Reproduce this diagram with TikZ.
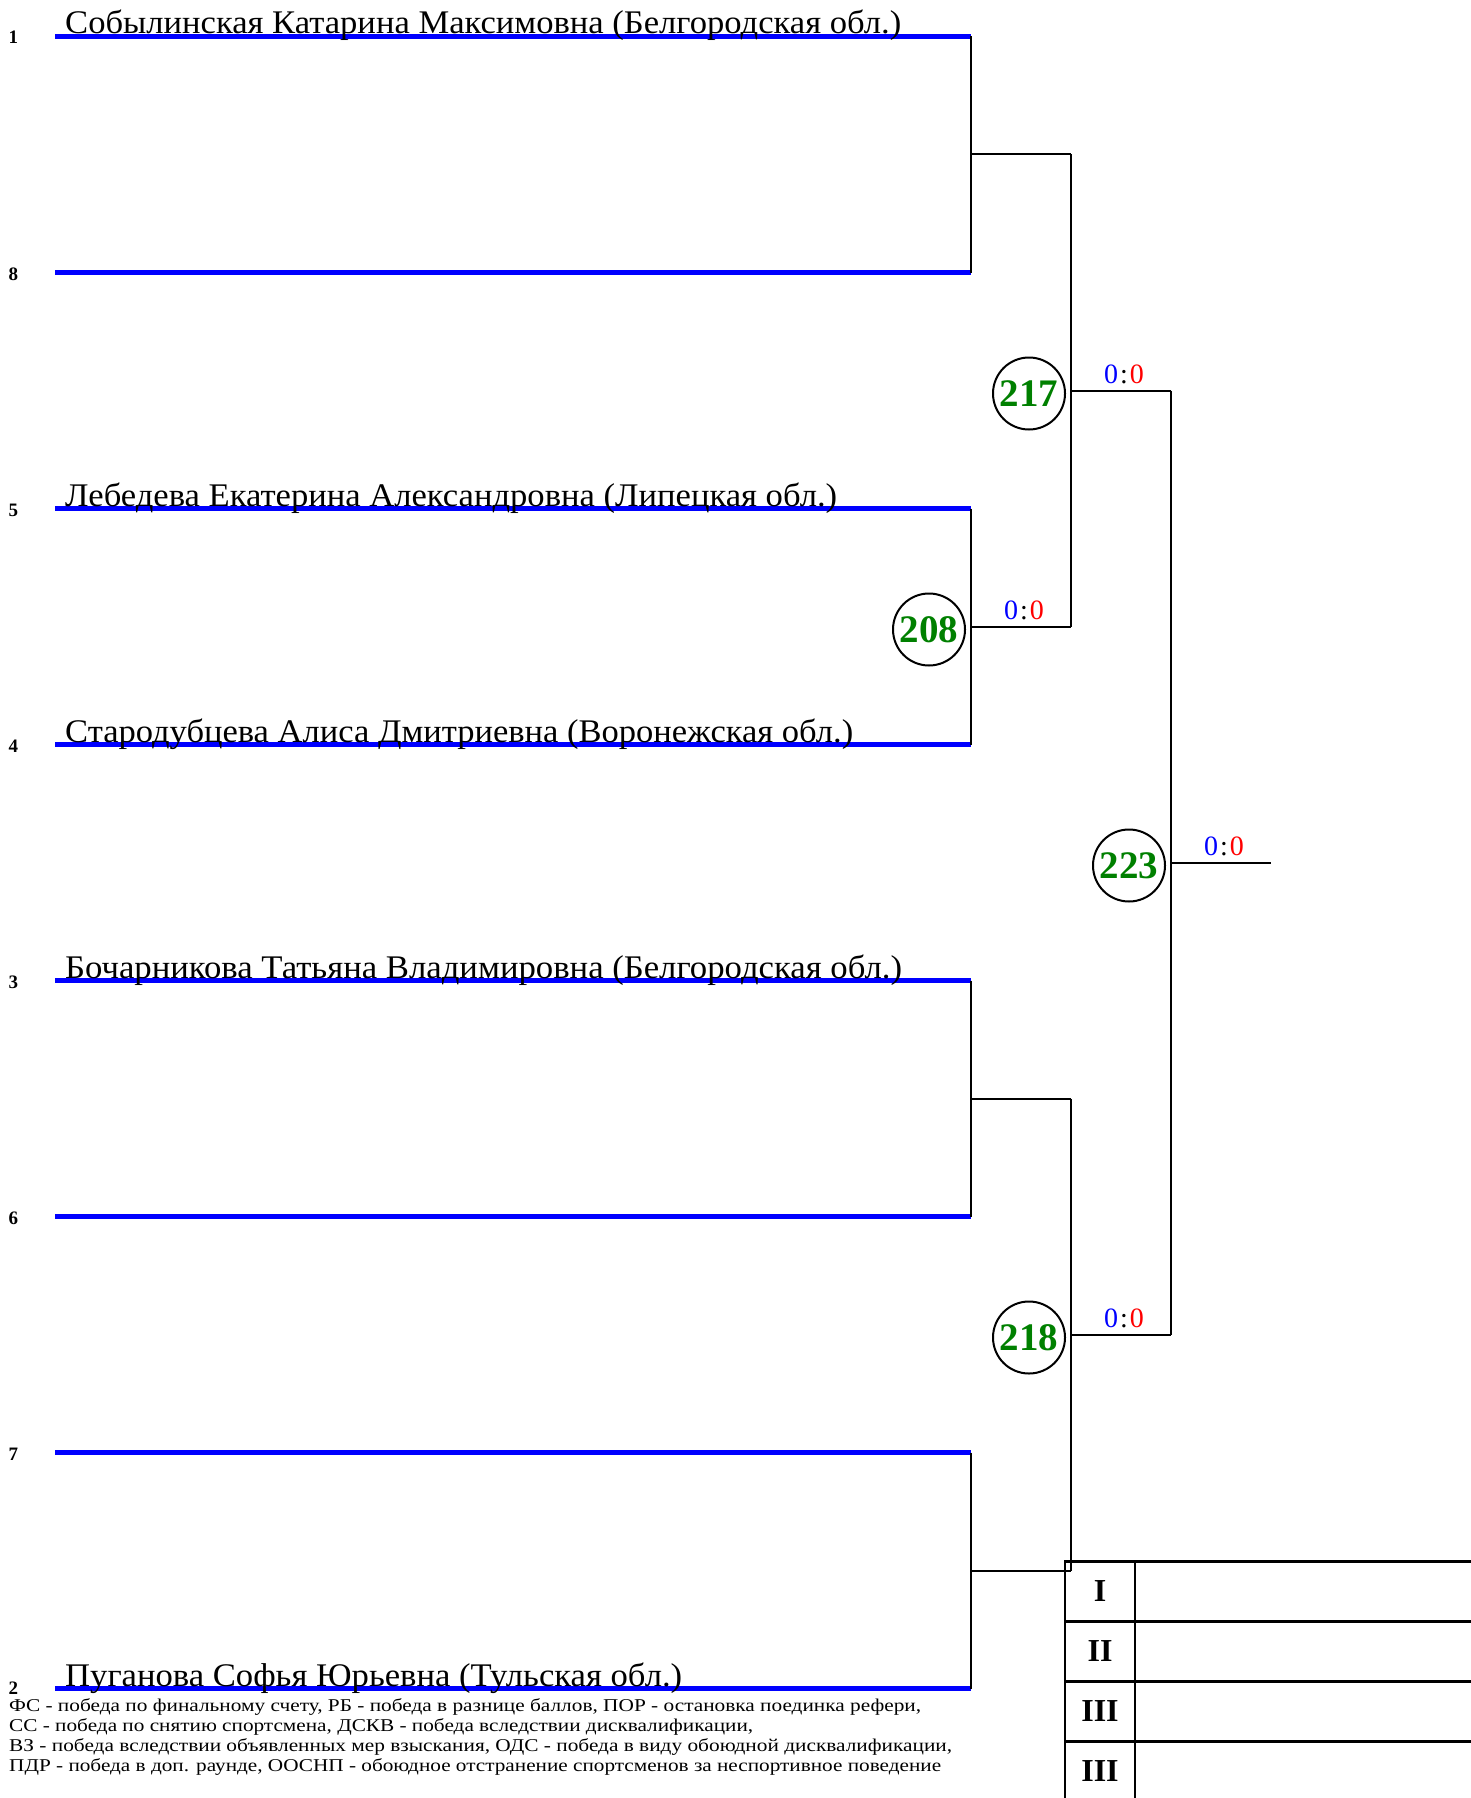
\documentclass[tikz,border=0pt]{standalone}
\usepackage{fontspec}
\setmainfont{Liberation Serif}
\usepackage{graphicx}
\definecolor{wgreen}{HTML}{008000}
\definecolor{wblue}{HTML}{0000FF}
\definecolor{wred}{HTML}{FF0000}
\newsavebox\fitbox
\newcommand\fittext[2]{\sbox\fitbox{#2}\pgfmathsetmacro\fitratio{#1pt/\the\wd\fitbox}\scalebox{\fitratio}[1]{\usebox\fitbox}}
\tikzset{
  blueline/.style={draw=wblue, line width=5.5pt},
  conn/.style={draw=black, line width=2pt},
  namelbl/.style={anchor=base west, inner sep=0pt, font=\fontsize{33}{38}\selectfont},
  seedlbl/.style={anchor=base, inner sep=0pt, font=\fontsize{19}{22}\selectfont\bfseries},
  fightno/.style={circle, draw=black, line width=2pt, minimum size=72pt, inner sep=0pt, text=wgreen, font=\fontsize{39}{44}\selectfont\bfseries},
  scorelbl/.style={anchor=base, inner sep=0pt, font=\fontsize{28}{32}\selectfont},
  legendlbl/.style={anchor=base west, inner sep=0pt, font=\fontsize{18}{21}\selectfont},
  placelbl/.style={anchor=center, inner sep=0pt, font=\fontsize{32}{36}\selectfont\bfseries},
  tabline/.style={draw=black, line width=2.2pt}
}
\newcommand\score{{\color{wblue}0}\kern2pt:\kern2pt{\color{wred}0}}
\begin{document}
\begin{tikzpicture}[x=1pt,y=-1pt]
\useasboundingbox[fill=white] (0,0) rectangle (1470,1798);
% slot lines
\foreach \n/\y in {s1/36.5, s8/272.5, s5/508.5, s4/744.5, s3/980.5, s6/1216.5, s7/1452.5, s2/1688.5}{
  \coordinate (\n a) at (55,\y);
  \coordinate (\n b) at (971,\y);
}
\foreach \n in {s1,s8,s5,s4,s3,s6,s7,s2}{
  \draw[blueline] (\n a) -- (\n b);
}
% round 1 junctions
\coordinate (j18) at (971,154.5);   \coordinate (k18) at (1071,154.5);
\coordinate (j54) at (971,626.5);   \coordinate (k54) at (1071,626.5);
\coordinate (j36) at (971,1098.5);  \coordinate (k36) at (1071,1098.5);
\coordinate (j72) at (971,1570.5);  \coordinate (k72) at (1071,1570.5);
\draw[conn] (s1b) -- (s8b);
\draw[conn] (s5b) -- (s4b);
\draw[conn] (s3b) -- (s6b);
\draw[conn] (s7b) -- (s2b);
\draw[conn] (j18) -- (k18);
\draw[conn] (j54) -- (k54);
\draw[conn] (j36) -- (k36);
\draw[conn] (j72) -- (k72);
% round 2
\coordinate (j1854) at (1071,390.5); \coordinate (k1854) at (1171,390.5);
\coordinate (j3672) at (1071,1334.5); \coordinate (k3672) at (1171,1334.5);
\draw[conn] (k18) -- (k54);
\draw[conn] (k36) -- (k72);
\draw[conn] (j1854) -- (k1854);
\draw[conn] (j3672) -- (k3672);
% final
\coordinate (jf) at (1171,862.5); \coordinate (kf) at (1271,862.5);
\draw[conn] (k1854) -- (k3672);
\draw[conn] (jf) -- (kf);
% fight numbers
\node[fightno] (f208) at (929,629.5) {208};
\node[fightno] (f217) at (1029,393.5) {217};
\node[fightno] (f218) at (1029,1337.5) {218};
\node[fightno] (f223) at (1129,865.5) {223};
% scores
\node[scorelbl] (sc208) at (1024,619.5) {\score};
\node[scorelbl] (sc217) at (1124,383.5) {\score};
\node[scorelbl] (sc218) at (1124,1327.5) {\score};
\node[scorelbl] (sc223) at (1224,855.5) {\score};
% seeds
\node[seedlbl] (n1) at (13.5,44) {1};
\node[seedlbl] (n8) at (13.5,280) {8};
\node[seedlbl] (n5) at (13.5,516) {5};
\node[seedlbl] (n4) at (13.5,752) {4};
\node[seedlbl] (n3) at (13.5,988) {3};
\node[seedlbl] (n6) at (13.5,1224) {6};
\node[seedlbl] (n7) at (13.5,1460) {7};
\node[seedlbl] (n2) at (13.5,1694) {2};
% names
\node[namelbl] (name1) at (65,34) {\fittext{836}{Собылинская Катарина Максимовна (Белгородская обл.)}};
\node[namelbl] (name5) at (65,506) {\fittext{772}{Лебедева Екатерина Александровна (Липецкая обл.)}};
\node[namelbl] (name4) at (65,742) {\fittext{788}{Стародубцева Алиса Дмитриевна (Воронежская обл.)}};
\node[namelbl] (name3) at (65,978) {\fittext{837}{Бочарникова Татьяна Владимировна (Белгородская обл.)}};
\node[namelbl] (name2) at (65,1686) {\fittext{617}{Пуганова Софья Юрьевна (Тульская обл.)}};
% legend
\node[legendlbl] (lg1) at (9,1711) {\fittext{912}{ФС - победа по финальному счету, РБ - победа в разнице баллов, ПОР - остановка поединка рефери,}};
\node[legendlbl] (lg2) at (9,1731) {\fittext{744}{СС - победа по снятию спортсмена, ДСКВ - победа вследствии дисквалификации,}};
\node[legendlbl] (lg3) at (9,1751) {\fittext{943}{ВЗ - победа вследствии объявленных мер взыскания, ОДС - победа в виду обоюдной дисквалификации,}};
\node[legendlbl] (lg4) at (9,1771) {\fittext{932}{ПДР - победа в доп. раунде, ООСНП - обоюдное отстранение спортсменов за неспортивное поведение}};
% places table
\draw[tabline] (1065,1805) -- (1065,1561.5) -- (1475,1561.5);
\draw[tabline] (1135,1561.5) -- (1135,1805);
\draw[tabline] (1065,1621.5) -- (1475,1621.5);
\draw[tabline] (1065,1681.5) -- (1475,1681.5);
\draw[tabline] (1065,1741.5) -- (1475,1741.5);
\node[placelbl] (p1) at (1100,1591.5) {I};
\node[placelbl] (p2) at (1100,1651.5) {II};
\node[placelbl] (p3) at (1100,1711.5) {III};
\node[placelbl] (p4) at (1100,1771.5) {III};
\end{tikzpicture}
\end{document}
